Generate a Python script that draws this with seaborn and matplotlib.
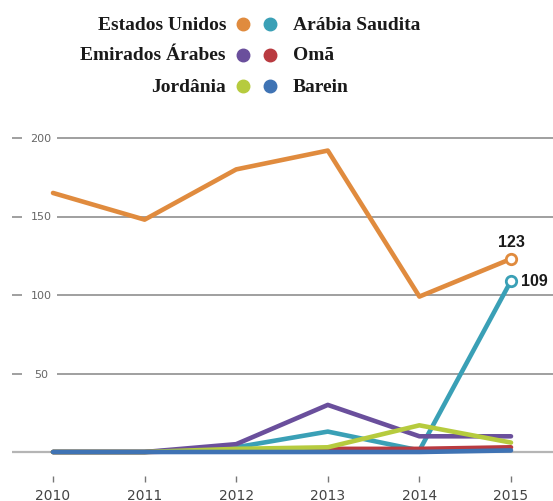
import matplotlib
matplotlib.use("Agg")
import matplotlib.pyplot as plt
from matplotlib.lines import Line2D
import matplotlib.transforms as mtransforms
import seaborn as sns
import pandas as pd

# Data
anos = [2010, 2011, 2012, 2013, 2014, 2015]
paises = ["Estados Unidos", "Arábia Saudita", "Emirados Árabes", "Omã", "Jordânia", "Barein"]
estados_unidos = [165, 148, 180, 192, 99, 123]
arabia_saudita = [0, 0, 3, 13, 1, 109]
emirados_arabes = [0, 0, 5, 30, 10, 10]
oma = [0, 0, 1, 2, 2, 3]
jordania = [0, 0, 2, 3, 17, 6]
barein = [0, 0, 0, 0, 0, 1]
y_ticks = [50, 100, 150, 200]

cores = {
    "Estados Unidos": "#E08B3E",
    "Arábia Saudita": "#3AA0B6",
    "Emirados Árabes": "#6A4F9C",
    "Omã": "#B93A40",
    "Jordânia": "#B6CB3E",
    "Barein": "#3F73B4",
}

series = {
    "Estados Unidos": estados_unidos,
    "Arábia Saudita": arabia_saudita,
    "Emirados Árabes": emirados_arabes,
    "Omã": oma,
    "Jordânia": jordania,
    "Barein": barein,
}
df = pd.DataFrame(
    [(p, a, v) for p, vals in series.items() for a, v in zip(anos, vals)],
    columns=["pais", "ano", "valor"],
)

sns.set_style("white")
plt.rcParams["font.family"] = ["DejaVu Sans"]

W, H = 553, 502
fig = plt.figure(figsize=(W / 100, H / 100), dpi=100)

# axes occupies full width; y from 130px to 477px from top
top_px, bot_px = 130, 477
ax = fig.add_axes([0, 1 - bot_px / H, 1, (bot_px - top_px) / H])
px_per_year = 91.6
px_per_unit = 1.57
ax.set_xlim(2010 - 53 / px_per_year, 2015 + 42 / px_per_year)
ax.set_ylim(-(bot_px - 453) / px_per_unit, (453 - top_px) / px_per_unit)
for s in ax.spines.values():
    s.set_visible(False)

grid_col = "#8f8f8f"
blend = mtransforms.blended_transform_factory(ax.transAxes, ax.transData)
# baseline
ax.hlines(0, 12 / W, 1, transform=blend, color="#b5b5b5", lw=1.6, zorder=1)
for t in y_ticks:
    ax.hlines(t, 57 / W, 1, transform=blend, color=grid_col, lw=1.2, zorder=1)
    ax.hlines(t, 12 / W, 22 / W, transform=blend, color=grid_col, lw=1.2, zorder=1)
    ax.text(41 / W, t, str(t), transform=blend, ha="center", va="center",
            fontsize=8, color="#666666")

sns.lineplot(data=df, x="ano", y="valor", hue="pais", hue_order=paises,
             palette=cores, linewidth=3.3, legend=False, ax=ax, zorder=3)

# end markers and value labels
for nome, dx, dy, ha, va in [("Estados Unidos", 0, 7, "center", "bottom"),
                             ("Arábia Saudita", 7, 0, "left", "center")]:
    v = series[nome][-1]
    ax.plot([anos[-1]], [v], marker="o", ms=7.5, mfc="white", mec=cores[nome],
            mew=2, zorder=5, clip_on=False)
    ax.annotate(str(v), (anos[-1], v), xytext=(dx, dy), textcoords="offset points",
                ha=ha, va=va, fontsize=11.5, fontweight="bold",
                family=["Liberation Sans", "DejaVu Sans"], color="#1a1a1a")

# x ticks
ax.set_xticks(anos)
ax.set_xticklabels([str(a) for a in anos])
ax.set_yticks([])
ax.tick_params(axis="x", direction="out", length=4.5, width=1, color="#777777",
               pad=4, labelsize=10, labelcolor="#444444", bottom=True)
ax.set_xlabel("")
ax.set_ylabel("")

# legend drawn in two columns at the top
rows_y = [25, 56, 87]
left_names = ["Estados Unidos", "Emirados Árabes", "Jordânia"]
right_names = ["Arábia Saudita", "Omã", "Barein"]
legend_font = dict(fontsize=14, fontweight="bold",
                   family=["Liberation Serif", "DejaVu Serif"], color="#1a1a1a")
for ry, ln, rn in zip(rows_y, left_names, right_names):
    fy = 1 - ry / H
    fig.text(226 / W, fy, ln, ha="right", va="center", **legend_font)
    fig.text(293 / W, fy, rn, ha="left", va="center", **legend_font)
    for nm, mx in [(ln, 243), (rn, 270)]:
        fig.add_artist(Line2D([mx / W], [fy], marker="o", ms=9, color=cores[nm],
                              lw=0, transform=fig.transFigure))

fig.savefig("out.png", dpi=100)
